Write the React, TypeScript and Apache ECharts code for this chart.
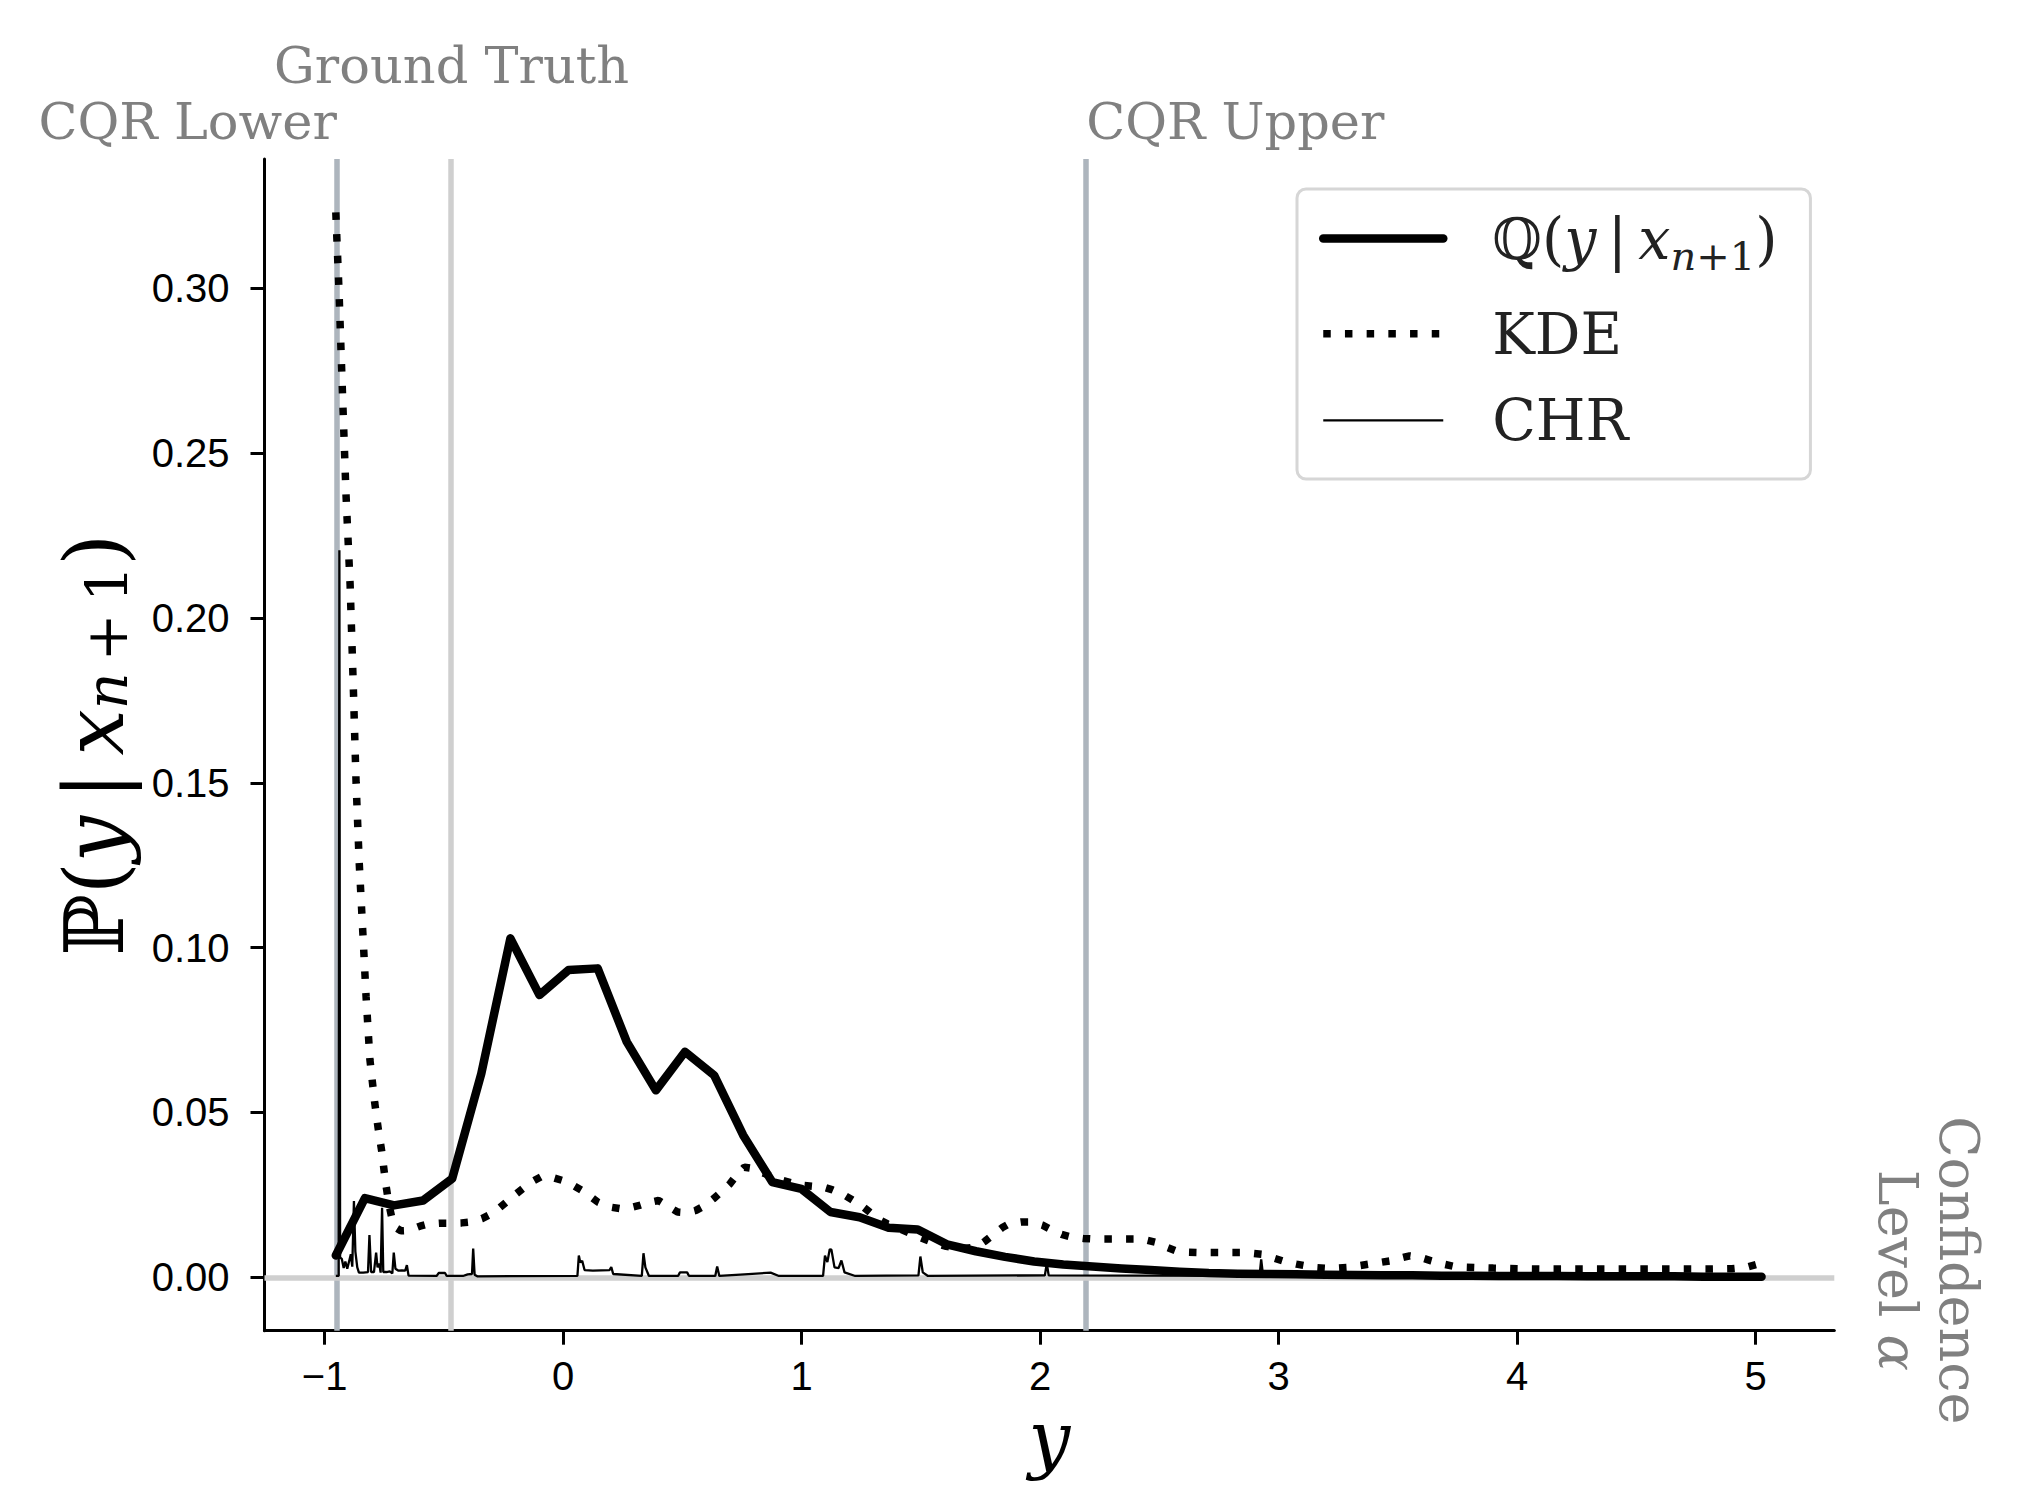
import React, { useEffect, useRef } from 'react';
import * as echarts from 'echarts';

// ---------- axis ranges & ticks ----------
const X_MIN = -1.252;
const X_MAX = 5.33;
const Y_MIN = -0.0162;
const Y_MAX = 0.3392;

const xTickValues = [-1, 0, 1, 2, 3, 4, 5];
const yTickValues = [0, 0.05, 0.1, 0.15, 0.2, 0.25, 0.3];

// ---------- reference lines ----------
const CQR_LOWER = -0.949;
const GROUND_TRUTH = -0.4675;
const CQR_UPPER = 2.193;
const CONFIDENCE_LEVEL = 0.0021;

// ---------- Q(y | x_{n+1}) ----------
const qX = [
  -0.953, -0.831, -0.709, -0.587, -0.465, -0.343, -0.221, -0.099, 0.023, 0.145,
  0.267, 0.389, 0.511, 0.633, 0.755, 0.877, 0.999, 1.121, 1.243, 1.365,
  1.487, 1.609, 1.731, 1.853, 1.975, 2.097, 2.219, 2.341, 2.463, 2.585,
  2.707, 2.829, 2.951, 3.073, 3.195, 3.317, 3.439, 3.561, 3.683, 3.805,
  3.927, 4.049, 4.171, 4.293, 4.415, 4.537, 4.659, 4.781, 4.903, 5.025,
];
const qY = [
  0.0066, 0.024, 0.0218, 0.0233, 0.0299, 0.0618, 0.1028, 0.0856, 0.0932, 0.0937,
  0.0714, 0.0567, 0.0684, 0.0613, 0.0431, 0.0289, 0.0268, 0.0198, 0.0182, 0.015,
  0.0145, 0.01, 0.0079, 0.0062, 0.0048, 0.0039, 0.0033, 0.0027, 0.0022, 0.0017,
  0.0013, 0.0011, 0.001, 0.0009, 0.0008, 0.0007, 0.0006, 0.0006, 0.0005, 0.0005,
  0.0004, 0.0004, 0.0004, 0.0003, 0.0003, 0.0003, 0.0003, 0.0002, 0.0002, 0.0002,
];

// ---------- KDE ----------
const kdePoints: [number, number][] = [
  [-0.953, 0.323], [-0.94, 0.3], [-0.925, 0.268], [-0.91, 0.237], [-0.893, 0.21],
  [-0.88, 0.18], [-0.868, 0.15], [-0.855, 0.126], [-0.84, 0.105], [-0.826, 0.085],
  [-0.81, 0.066], [-0.79, 0.053], [-0.775, 0.045], [-0.76, 0.038], [-0.745, 0.029],
  [-0.73, 0.022], [-0.715, 0.017], [-0.7, 0.015], [-0.68, 0.0141], [-0.649, 0.0142],
  [-0.6, 0.0155], [-0.564, 0.0162], [-0.52, 0.0164], [-0.47, 0.0164], [-0.425, 0.0165],
  [-0.383, 0.0168], [-0.34, 0.0178], [-0.3, 0.0193], [-0.265, 0.0212], [-0.23, 0.0233],
  [-0.195, 0.0254], [-0.16, 0.0274], [-0.125, 0.0292], [-0.09, 0.0306], [-0.045, 0.0303],
  [-0.004, 0.0294], [0.04, 0.028], [0.08, 0.0263], [0.115, 0.0245], [0.146, 0.0228],
  [0.19, 0.0214], [0.24, 0.0208], [0.28, 0.0211], [0.32, 0.0218], [0.36, 0.0227],
  [0.4, 0.0233], [0.44, 0.0215], [0.48, 0.0198], [0.52, 0.0196], [0.557, 0.0203],
  [0.595, 0.0218], [0.63, 0.0238], [0.665, 0.026], [0.7, 0.0284], [0.73, 0.0312],
  [0.76, 0.0334], [0.795, 0.033], [0.83, 0.0319], [0.875, 0.0306], [0.92, 0.0294],
  [0.965, 0.0285], [1.006, 0.0279], [1.05, 0.0276], [1.09, 0.0274], [1.13, 0.0265],
  [1.17, 0.0253], [1.21, 0.0236], [1.25, 0.0218], [1.285, 0.0198], [1.32, 0.0177],
  [1.36, 0.0162], [1.4, 0.015], [1.45, 0.0135], [1.5, 0.012], [1.55, 0.0106],
  [1.6, 0.0095], [1.65, 0.0089], [1.69, 0.0088], [1.733, 0.0092], [1.77, 0.011],
  [1.81, 0.0133], [1.84, 0.015], [1.872, 0.0163], [1.92, 0.0168], [1.965, 0.0168],
  [2.01, 0.0158], [2.05, 0.0143], [2.09, 0.013], [2.133, 0.0122], [2.18, 0.0118],
  [2.227, 0.0116], [2.32, 0.0116], [2.41, 0.0116], [2.45, 0.0112], [2.495, 0.0104],
  [2.535, 0.009], [2.575, 0.0079], [2.62, 0.0076], [2.67, 0.0075], [2.76, 0.0075],
  [2.85, 0.0075], [2.89, 0.0073], [2.93, 0.007], [2.98, 0.0058], [3.03, 0.0047],
  [3.075, 0.004], [3.12, 0.0034], [3.16, 0.0029], [3.2, 0.0027], [3.245, 0.0028],
  [3.29, 0.003], [3.335, 0.0035], [3.38, 0.004], [3.425, 0.0045], [3.47, 0.005],
  [3.51, 0.0058], [3.55, 0.0065], [3.595, 0.006], [3.64, 0.005], [3.685, 0.0041],
  [3.73, 0.0034], [3.775, 0.0031], [3.82, 0.003], [3.9, 0.0028], [4.0, 0.0026],
  [4.1, 0.0025], [4.2, 0.0025], [4.3, 0.0025], [4.4, 0.0025], [4.5, 0.0025],
  [4.6, 0.0025], [4.7, 0.0025], [4.8, 0.0025], [4.9, 0.0026], [4.96, 0.003],
  [5.025, 0.0043],
];

// ---------- CHR ----------
const chrPoints: [number, number][] = [
  [-0.953, 0.0004], [-0.941, 0.0004], [-0.938, 0.2205], [-0.935, 0.006], [-0.928, 0.0056],
  [-0.92, 0.0028], [-0.913, 0.0048], [-0.905, 0.0026], [-0.89, 0.007], [-0.884, 0.0032],
  [-0.877, 0.0231], [-0.871, 0.0078], [-0.863, 0.003], [-0.856, 0.0014], [-0.838, 0.0014],
  [-0.818, 0.0016], [-0.812, 0.0128], [-0.805, 0.0016], [-0.793, 0.0016], [-0.784, 0.0075],
  [-0.778, 0.003], [-0.771, 0.0042], [-0.765, 0.0014], [-0.759, 0.0211], [-0.754, 0.0016],
  [-0.74, 0.0016], [-0.727, 0.0018], [-0.716, 0.0012], [-0.71, 0.0075], [-0.703, 0.0026],
  [-0.69, 0.002], [-0.676, 0.0021], [-0.662, 0.002], [-0.655, 0.0037], [-0.648, 0.0005],
  [-0.53, 0.0004], [-0.522, 0.0013], [-0.495, 0.0013], [-0.488, 0.0004], [-0.42, 0.0004],
  [-0.4, 0.0009], [-0.382, 0.001], [-0.377, 0.0087], [-0.371, 0.0008], [-0.36, 0.0003],
  [0.06, 0.0004], [0.066, 0.0066], [0.072, 0.0045], [0.08, 0.005], [0.09, 0.0022],
  [0.125, 0.002], [0.195, 0.0022], [0.202, 0.0031], [0.21, 0.001], [0.33, 0.0004],
  [0.337, 0.0073], [0.345, 0.003], [0.36, 0.0004], [0.482, 0.0004], [0.49, 0.0015],
  [0.52, 0.0015], [0.528, 0.0004], [0.638, 0.0004], [0.646, 0.0033], [0.655, 0.0004],
  [0.76, 0.0009], [0.87, 0.0014], [0.905, 0.0004], [1.09, 0.0004], [1.098, 0.0066],
  [1.108, 0.0046], [1.118, 0.0085], [1.125, 0.0084], [1.138, 0.003], [1.155, 0.0028],
  [1.167, 0.0051], [1.18, 0.0015], [1.225, 0.0004], [1.49, 0.0006], [1.498, 0.0063],
  [1.508, 0.0015], [1.53, 0.0004], [2.02, 0.0006], [2.028, 0.0042], [2.036, 0.0006],
  [2.92, 0.0004], [2.927, 0.0054], [2.935, 0.0004], [5.025, 0.0003],
];

const SERIF = 'DejaVu Serif';
const SANS = 'Liberation Sans';

const mathRich = (main: number, mainLH: number, sub: number, subLH: number, color: string) => ({
  bb: { fontFamily: SERIF, fontSize: main, lineHeight: mainLH, color },
  p: { fontFamily: SERIF, fontSize: main, lineHeight: mainLH, color },
  it: { fontFamily: SERIF, fontSize: main, lineHeight: mainLH, fontStyle: 'italic', color },
  si: { fontFamily: SERIF, fontSize: sub, lineHeight: subLH, fontStyle: 'italic', verticalAlign: 'bottom', color },
  s: { fontFamily: SERIF, fontSize: sub, lineHeight: subLH, verticalAlign: 'bottom', color },
});

const TS = '\u2009';
const mathLabel = (sym: string, subSpace: string) =>
  `{bb|${sym}}{p|(}{it|y}{p|${TS}|${TS}}{it|x}{si|n}{s|${subSpace}+${subSpace}1}{p|)}`;

const fmtX = (v: number) => (v < 0 ? '\u2212' + Math.abs(v) : String(v));

export default function App() {
  const ref = useRef<HTMLDivElement>(null);

  useEffect(() => {
    if (!ref.current) return;
    const chart = echarts.init(ref.current, null, { renderer: 'svg' });

    const option: any = {
      animation: false,
      backgroundColor: '#ffffff',
      grid: { left: 264.5, right: 198.7, top: 159, bottom: 156.3, containLabel: false, outerBoundsMode: 'none' },
      xAxis: {
        type: 'value',
        min: X_MIN,
        max: X_MAX,
        axisLine: { onZero: false, lineStyle: { color: '#000', width: 3 } },
        axisTick: { show: true, length: 14, lineStyle: { color: '#000', width: 3 }, customValues: xTickValues },
        axisLabel: { customValues: xTickValues, margin: 25, color: '#000', fontFamily: SANS, fontSize: 40, formatter: fmtX },
        splitLine: { show: false },
        name: 'y',
        nameLocation: 'middle',
        nameGap: 62,
        nameTextStyle: { fontFamily: SERIF, fontStyle: 'italic', fontSize: 74, lineHeight: 74, color: '#000' },
      },
      yAxis: {
        type: 'value',
        min: Y_MIN,
        max: Y_MAX,
        axisLine: { show: true, onZero: false, lineStyle: { color: '#000', width: 3 } },
        axisTick: { show: true, length: 14, lineStyle: { color: '#000', width: 3 }, customValues: yTickValues },
        axisLabel: {
          customValues: yTickValues, margin: 35, color: '#000', fontFamily: SANS, fontSize: 40,
          formatter: (v: number) => v.toFixed(2),
        },
        splitLine: { show: false },
        name: mathLabel('\u2119', TS),
        nameLocation: 'middle',
        nameGap: 129,
        nameRotate: 90,
        nameTextStyle: { fontFamily: SERIF, fontSize: 82, color: '#000', rich: mathRich(82, 82, 57, 30, '#000') },
      },
      legend: {
        orient: 'vertical',
        left: 1297,
        top: 189,
        data: ['Q', 'KDE', 'CHR'],
        selectedMode: false,
        itemWidth: 120,
        itemHeight: 56,
        itemGap: 29.6,
        padding: [12.6, 33, 30.2, 22],
        backgroundColor: '#ffffff',
        borderColor: '#d6d6d6',
        borderWidth: 3,
        borderRadius: 9,
        itemStyle: { opacity: 0 },
        lineStyle: { width: 'inherit' },
        formatter: (name: string) => (name === 'Q' ? mathLabel('\u211A', '') : name),
        textStyle: {
          fontFamily: SERIF,
          fontSize: 57,
          lineHeight: 56,
          color: '#222',
          padding: [0, 0, 0, 44],
          rich: mathRich(57, 74, 40, 38, '#222'),
        },
      },
      series: [
        {
          name: 'refs',
          type: 'line',
          data: [],
          silent: true,
          z: 1,
          markLine: {
            silent: true,
            symbol: 'none',
            z: 1,
            label: { show: false },
            emphasis: { disabled: true },
            data: [
              { xAxis: CQR_LOWER, lineStyle: { color: '#adb5bd', width: 5.5, type: 'solid' } },
              { xAxis: GROUND_TRUTH, lineStyle: { color: '#cfcfcf', width: 5.5, type: 'solid' } },
              { xAxis: CQR_UPPER, lineStyle: { color: '#adb5bd', width: 5.5, type: 'solid' } },
              { yAxis: CONFIDENCE_LEVEL, lineStyle: { color: '#cfcfcf', width: 5.5, type: 'solid' } },
            ],
          },
        },
        {
          name: 'Q',
          type: 'line',
          z: 10,
          data: qX.map((x, i) => [x, qY[i]]),
          symbol: 'none',
          showSymbol: false,
          lineStyle: { color: '#000', width: 8.5, cap: 'round', join: 'round' },
          itemStyle: { color: '#000' },
        },
        {
          name: 'KDE',
          type: 'line',
          z: 11,
          data: kdePoints,
          symbol: 'none',
          showSymbol: false,
          lineStyle: { color: '#000', width: 7.5, type: [7.5, 14.2], cap: 'butt' },
          itemStyle: { color: '#000' },
        },
        {
          name: 'CHR',
          type: 'line',
          z: 12,
          data: chrPoints,
          symbol: 'none',
          showSymbol: false,
          lineStyle: { color: '#000', width: 2.3 },
          itemStyle: { color: '#000' },
        },
      ],
    };

    chart.setOption(option);

    const px = (v: number) => chart.convertToPixel({ xAxisIndex: 0 }, v) as number;
    const py = (v: number) => chart.convertToPixel({ yAxisIndex: 0 }, v) as number;
    const top = py(Y_MAX);
    const right = px(X_MAX);
    const annot = { fontFamily: SERIF, fontSize: 51, fill: '#808080', verticalAlign: 'middle' };

    chart.setOption({
      graphic: {
        elements: [
          { type: 'text', silent: true, x: px(CQR_LOWER), y: top - 37.5, style: { ...annot, text: 'CQR Lower', align: 'right' } },
          { type: 'text', silent: true, x: px(GROUND_TRUTH), y: top - 93.5, style: { ...annot, text: 'Ground Truth', align: 'center' } },
          { type: 'text', silent: true, x: px(CQR_UPPER), y: top - 37.5, style: { ...annot, text: 'CQR Upper', align: 'left' } },
          {
            type: 'text',
            silent: true,
            x: right + 94,
            y: py(CONFIDENCE_LEVEL),
            rotation: -Math.PI / 2,
            style: {
              ...annot,
              fontSize: 54,
              lineHeight: 61,
              text: 'Confidence\nLevel {a|\u03B1}',
              align: 'center',
              rich: { a: { fontFamily: SERIF, fontStyle: 'italic', fontSize: 54, lineHeight: 61, fill: '#808080', color: '#808080' } },
            },
          },
        ],
      },
    });

    return () => chart.dispose();
  }, []);

  return (
    <div
      ref={ref}
      style={{ position: 'absolute', left: 0, top: 0, width: 2033, height: 1487 }}
    />
  );
}
